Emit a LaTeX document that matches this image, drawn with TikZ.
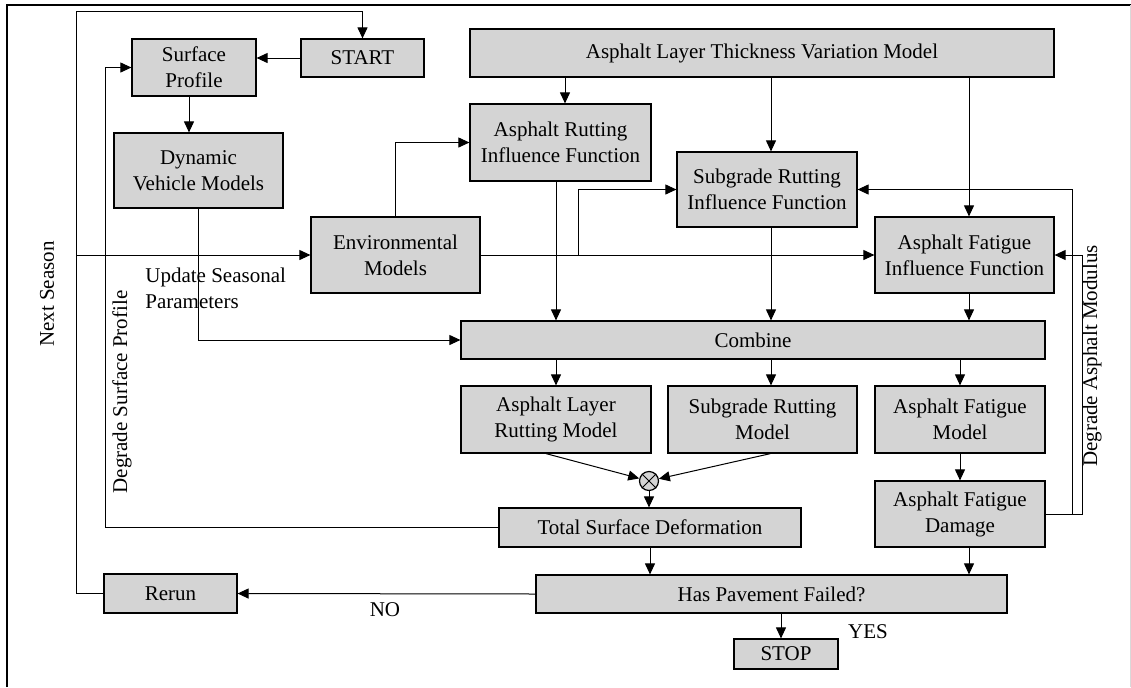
\documentclass[tikz,border=0pt]{standalone}
\usepackage{fontspec}
\setmainfont{Liberation Serif}
\usetikzlibrary{arrows.meta}
\definecolor{boxgray}{RGB}{212,212,212}

\begin{document}
\begin{tikzpicture}[x=0.5pt,y=-0.5pt,>={Triangle[length=5.5pt,width=5pt]},
		every node/.style={font=\fontsize{10.5}{13}\selectfont},
		box/.style={draw,fill=boxgray,line width=0.6pt,align=center,inner sep=0pt},
		link/.style={line width=0.5pt}]
		\useasboundingbox (0,0) rectangle (1131,687);
		\draw[line width=0.75pt] (7,687) -- (7,5) -- (1131,5);
		\draw[black!15] (1130,5) -- (1130,687);
		\node[box,minimum width=61.5pt,minimum height=19pt] (start) at (362.5,58) {START};
		\node[box,minimum width=62pt,minimum height=28.5pt] (surf) at (194,67.5) {Surface\\Profile};
		\node[box,minimum width=84.5pt,minimum height=37.5pt] (dvm) at (198.5,170.5) {Dynamic\\Vehicle Models};
		\node[box,minimum width=292pt,minimum height=24pt] (thick) at (762,53) {Asphalt Layer Thickness Variation Model};
		\node[box,minimum width=90.5pt,minimum height=38.5pt] (arif) at (560.5,142.5) {Asphalt Rutting\\Influence Function};
		\node[box,minimum width=90pt,minimum height=37.5pt] (srif) at (767,189.5) {Subgrade Rutting\\Influence Function};
		\node[box,minimum width=84.5pt,minimum height=38pt] (env) at (395.5,255) {Environmental\\Models};
		\node[box,minimum width=89.5pt,minimum height=38pt] (afif) at (964.5,255) {Asphalt Fatigue\\Influence Function};
		\node[box,minimum width=292pt,minimum height=19pt] (comb) at (753,340) {Combine};
		\node[box,minimum width=95pt,minimum height=33.5pt] (alrm) at (556,419.5) {Asphalt Layer\\Rutting Model};
		\node[box,minimum width=94.5pt,minimum height=33.5pt] (srm) at (762.5,419.5) {Subgrade Rutting\\Model};
		\node[box,minimum width=85pt,minimum height=33.5pt] (afm) at (960,419.5) {Asphalt Fatigue\\Model};
		\node[box,circle,minimum size=9.5pt] (mult) at (649,481) {};
		\node[box,minimum width=151pt,minimum height=19.5pt] (tsd) at (650,527.5) {Total Surface Deformation};
		\node[box,minimum width=85pt,minimum height=33pt] (afd) at (960,514) {Asphalt Fatigue\\Damage};
		\node[box,minimum width=235.5pt,minimum height=19pt] (hpf) at (771.5,594) {Has Pavement Failed?};
		\node[box,minimum width=66.5pt,minimum height=19.5pt] (rerun) at (170.5,593.5) {Rerun};
		\node[box,minimum width=52pt,minimum height=15pt] (stop) at (786,654) {STOP};
		\node[rotate=90] (nslbl) at (47,294) {Next Season};
		\node[rotate=90] (dsplbl) at (122,392) {Degrade Surface Profile};
		\node[rotate=90] (damlbl) at (1092,356) {Degrade Asphalt Modulus};
		\node[anchor=west,align=left,inner sep=0pt] (usplbl) at (145,288) {Update Seasonal\\Parameters};
		\node (nolbl) at (385,610) {NO};
		\node (yeslbl) at (868,632) {YES};
		\draw[link] (mult.north west) -- (mult.south east);
		\draw[link] (mult.north east) -- (mult.south west);
		\coordinate (loop) at (76,11);
		\coordinate (dsp) at (105,67.5);
		\coordinate (br) at (578,255);
		\coordinate (da1) at (1072,514);
		\coordinate (da2) at (1082,514);
		\draw[link,->] (start.west) -- (surf.east |- start.west);
		\draw[link,->] (rerun.west) -| (loop) -| (start.north);
		\draw[link,->] (loop |- env.west) -- (env.west);
		\draw[link,->] (tsd.west) -| (dsp) -- (surf.west);
		\draw[link,->] ([xshift=-2.5pt]surf.south) -- ([xshift=-2.5pt]surf.south |- dvm.north);
		\draw[link,->] (dvm.south) |- (comb.west);
		\draw[link,->] (env.north) |- (arif.west);
		\draw[link,->] (env.east) -- (afif.west);
		\draw[link,->] (br) |- (srif.west);
		\draw[link,->] ([xshift=2.25pt]arif.north |- thick.south) -- ([xshift=2.25pt]arif.north);
		\draw[link,->] ([xshift=2pt]srif.north |- thick.south) -- ([xshift=2pt]srif.north);
		\draw[link,->] ([xshift=2.25pt]afif.north |- thick.south) -- ([xshift=2.25pt]afif.north);
		\draw[link,->] ([xshift=-2.25pt]arif.south) -- ([xshift=-2.25pt]arif.south |- comb.north);
		\draw[link,->] ([xshift=2pt]srif.south) -- ([xshift=2pt]srif.south |- comb.north);
		\draw[link,->] ([xshift=2.25pt]afif.south) -- ([xshift=2.25pt]afif.south |- comb.north);
		\draw[link,->] (alrm.north |- comb.south) -- (alrm.north);
		\draw[link,->] ([xshift=2pt]srif.south |- comb.south) -- ([xshift=2pt]srif.south |- srm.north);
		\draw[link,->] (afm.north |- comb.south) -- (afm.north);
		\draw[link,->] (afm.south) -- (afd.north);
		\draw[link,->] ([xshift=-5pt]alrm.south) -- (mult);
		\draw[link,->] ([xshift=4pt]srm.south) -- (mult);
		\draw[link,->] (mult.south) -- (mult.south |- tsd.north);
		\draw[link,->] (tsd.south) -- (tsd.south |- hpf.north);
		\draw[link,->] ([xshift=4.5pt]afd.south) -- ([xshift=4.5pt]afd.south |- hpf.north);
		\draw[link,->] (hpf.west) -- (rerun.east);
		\draw[link,->] ([xshift=-2.5pt]stop.north |- hpf.south) -- ([xshift=-2.5pt]stop.north);
		\draw[link,->] (afd.east) -- (da2) |- (afif.east);
		\draw[link,->] (da1) |- (srif.east);
\end{tikzpicture}
\end{document}
